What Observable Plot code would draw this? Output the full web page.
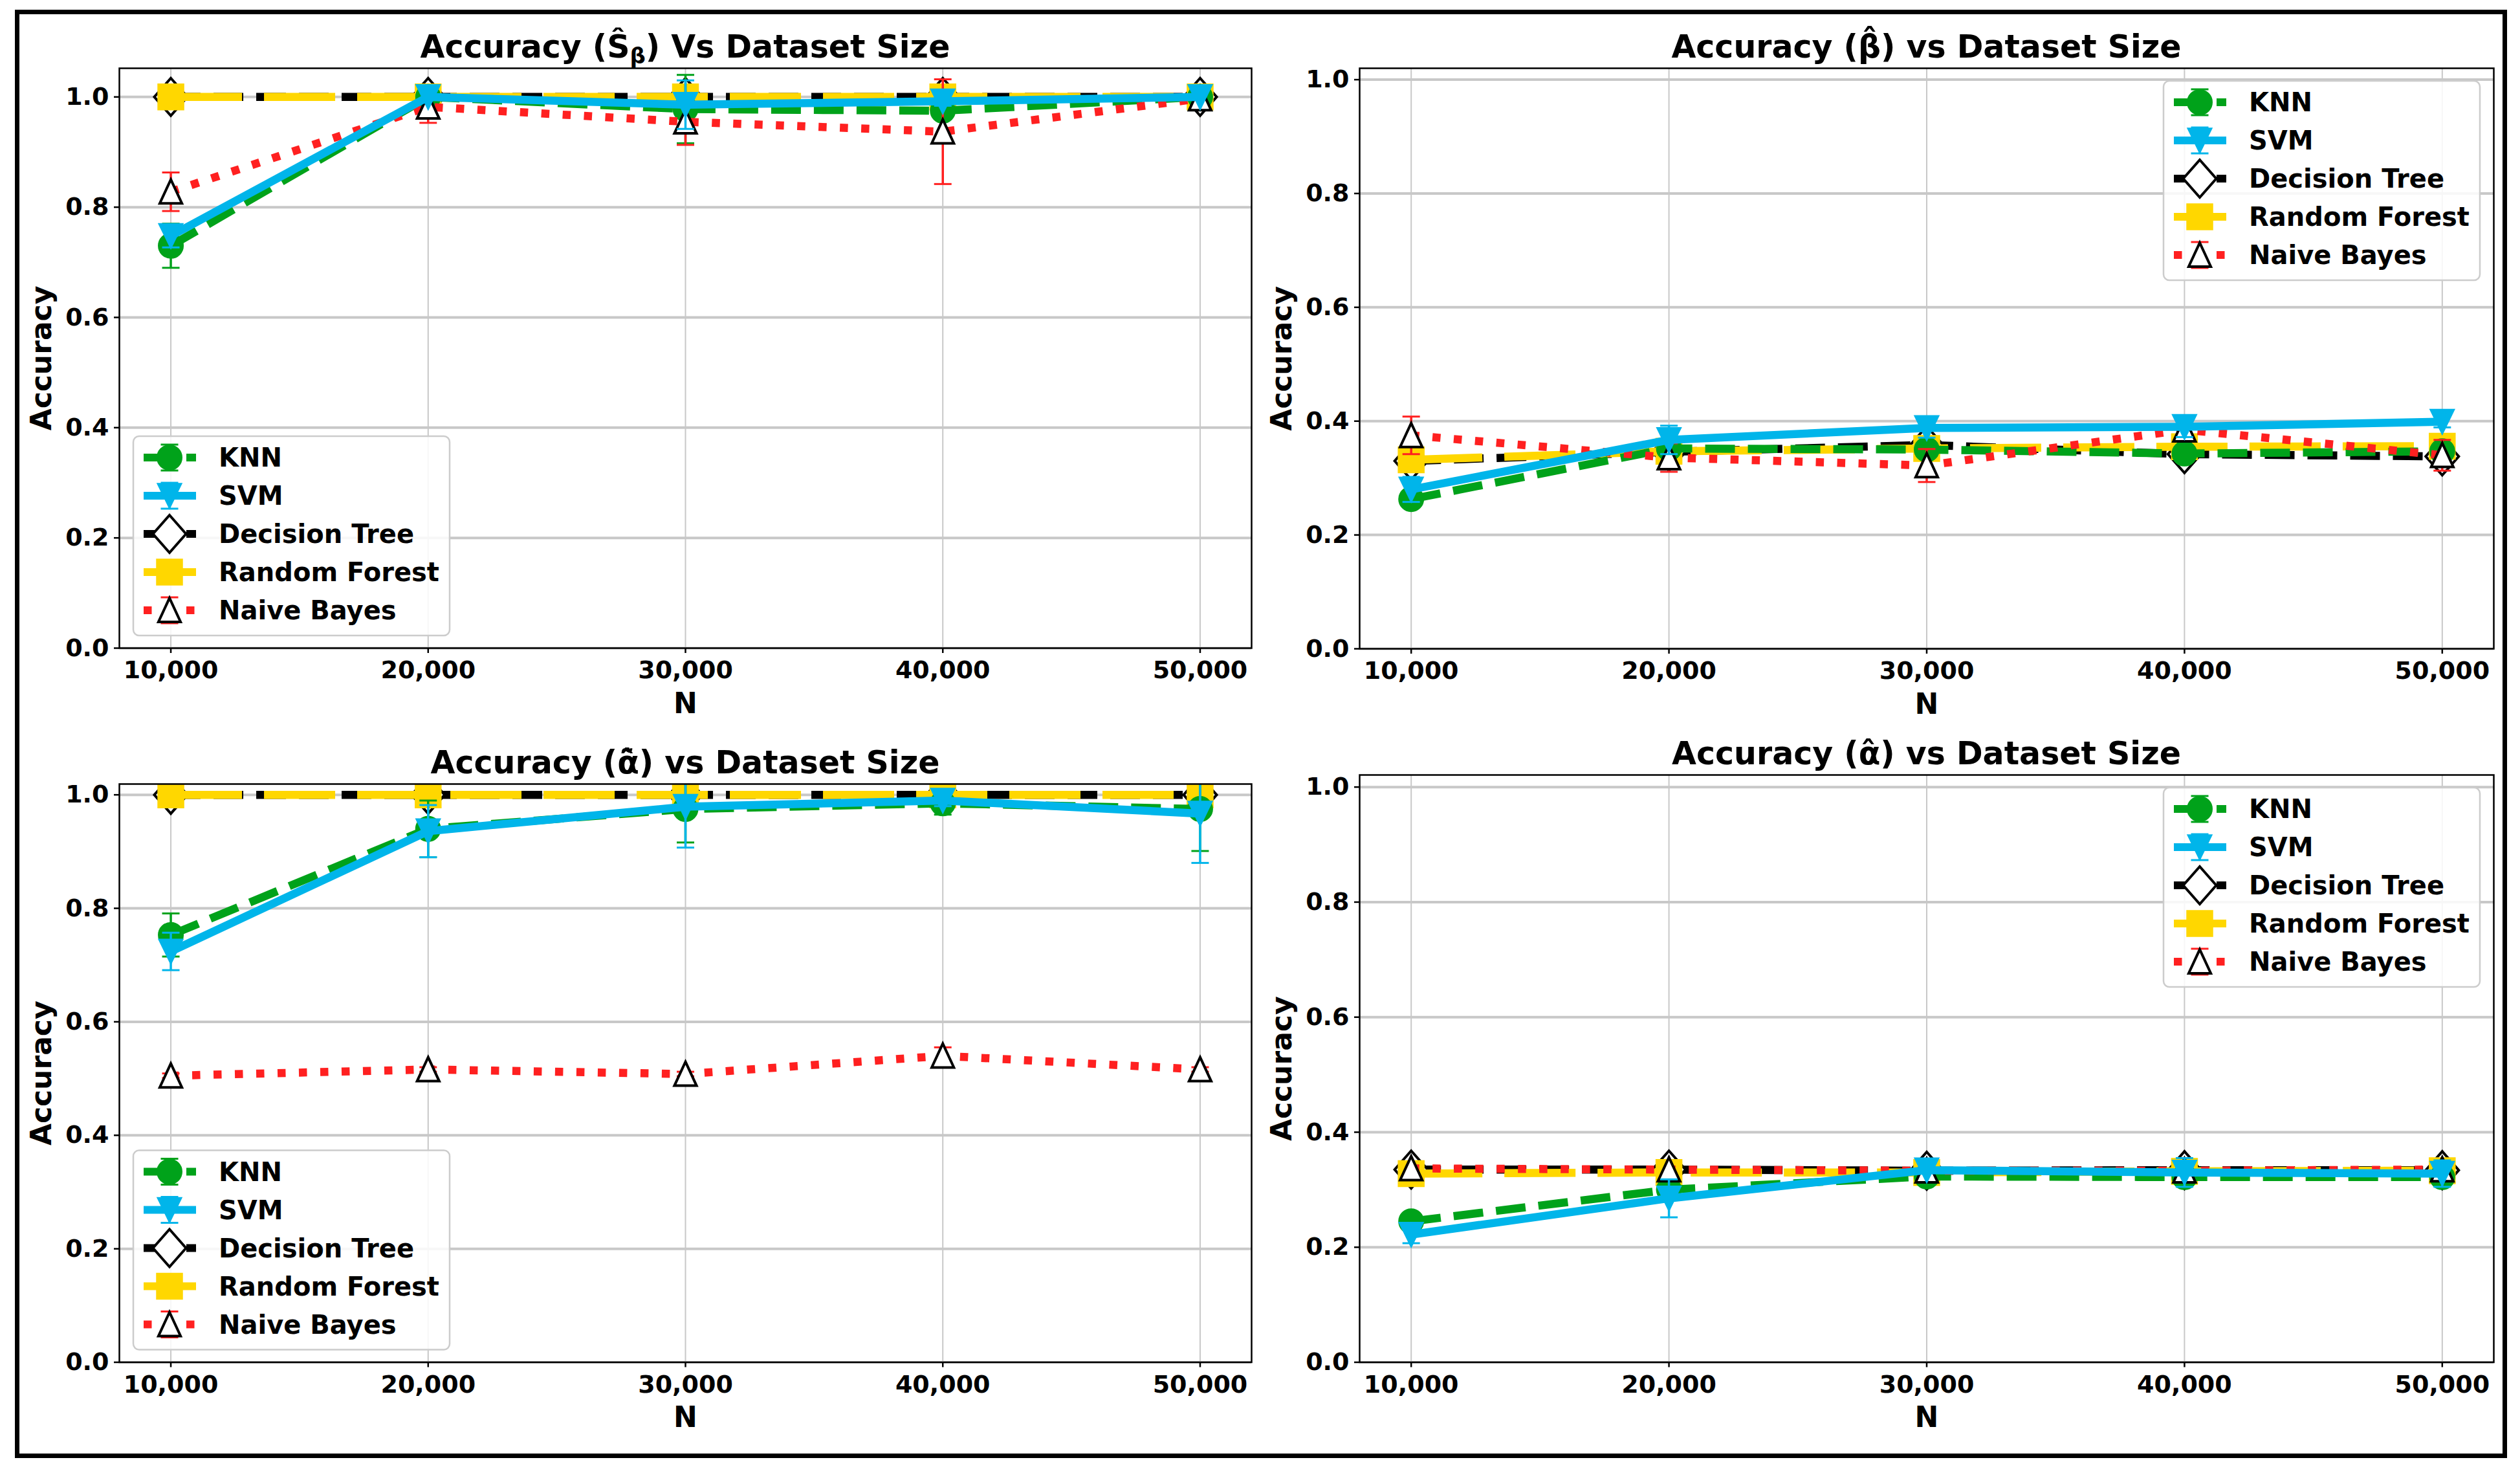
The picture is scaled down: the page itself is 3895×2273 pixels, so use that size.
<!DOCTYPE html>
<html>
<head>
<meta charset="utf-8">
<script src="https://cdn.jsdelivr.net/npm/d3@7"></script>
<script src="https://cdn.jsdelivr.net/npm/@observablehq/plot@0.6"></script>
<style>
html, body { margin: 0; padding: 0; background: #fff; }
#fig { position: relative; width: 3895px; height: 2273px; background: #fff; overflow: hidden; }
#border { position: absolute; left: 23px; top: 15px; width: 3852px; height: 2238px; border: 7.5px solid #000; box-sizing: border-box; }
#fig svg { position: absolute; }
#fig svg text { font-family: "DejaVu Sans", sans-serif; font-weight: bold; }
</style>
</head>
<body>
<div id="fig"><div id="border"></div></div>
<script>
// ---------------- data ----------------
const sizes = [10000, 20000, 30000, 40000, 50000];
const models = ["KNN", "SVM", "Decision Tree", "Random Forest", "Naive Bayes"];
const yTickValues = [0, 0.2, 0.4, 0.6, 0.8, 1.0];

// Panel 1: Accuracy (S-hat beta) — rows: KNN, SVM, DT, RF, NB
const sBetaAcc = [
  [0.730, 1.000, 0.978, 0.975, 1.000],
  [0.748, 1.000, 0.986, 0.992, 1.000],
  [1.000, 1.000, 1.000, 1.000, 1.000],
  [1.000, 1.000, 1.000, 1.000, 1.000],
  [0.828, 0.982, 0.955, 0.937, 0.997]
];
const sBetaErr = [
  [0.040, 0.000, 0.062, 0.012, 0.000],
  [0.021, 0.000, 0.044, 0.008, 0.000],
  [0, 0, 0, 0, 0],
  [0, 0, 0, 0, 0],
  [0.035, 0.029, 0.042, 0.095, 0.000]
];

// Panel 2: Accuracy (beta-hat)
const betaAcc = [
  [0.263, 0.352, 0.350, 0.343, 0.347],
  [0.280, 0.367, 0.388, 0.390, 0.399],
  [0.330, 0.346, 0.358, 0.342, 0.338],
  [0.332, 0.347, 0.352, 0.355, 0.356],
  [0.375, 0.336, 0.322, 0.385, 0.340]
];
const betaErr = [
  [0.005, 0, 0, 0, 0],
  [0.022, 0.025, 0.017, 0.018, 0.010],
  [0, 0, 0, 0, 0],
  [0, 0, 0, 0, 0],
  [0.033, 0.025, 0.029, 0.010, 0.027]
];

// Panel 3: Accuracy (alpha-tilde-hat)
const alphaTildeAcc = [
  [0.753, 0.940, 0.975, 0.985, 0.975],
  [0.724, 0.936, 0.979, 0.990, 0.967],
  [1.000, 1.000, 1.000, 1.000, 1.000],
  [1.000, 1.000, 1.000, 1.000, 1.000],
  [0.505, 0.516, 0.508, 0.540, 0.516]
];
const alphaTildeErr = [
  [0.038, 0.050, 0.059, 0.020, 0.074],
  [0.033, 0.046, 0.072, 0.010, 0.087],
  [0, 0, 0, 0, 0],
  [0, 0, 0, 0, 0],
  [0.004, 0.004, 0.004, 0.015, 0.004]
];

// Panel 4: Accuracy (alpha-hat)
const alphaAcc = [
  [0.245, 0.300, 0.323, 0.322, 0.322],
  [0.222, 0.285, 0.334, 0.330, 0.328],
  [0.335, 0.335, 0.333, 0.334, 0.334],
  [0.328, 0.330, 0.330, 0.332, 0.333],
  [0.337, 0.335, 0.333, 0.333, 0.335]
];
const alphaErr = [
  [0.008, 0.008, 0, 0.010, 0.010],
  [0.015, 0.033, 0.005, 0.025, 0.023],
  [0, 0, 0, 0, 0],
  [0, 0, 0, 0, 0],
  [0, 0, 0, 0, 0]
];

// ---------------- symbols & styles ----------------
const rad = s => Math.sqrt(s / Math.PI);
const triDown = {draw(c, s) { const r = rad(s); c.moveTo(-r, -r); c.lineTo(r, -r); c.lineTo(0, r * 1.05); c.closePath(); }};
const triUp = {draw(c, s) { const r = rad(s); c.moveTo(0, -r * 1.05); c.lineTo(r * 0.95, r); c.lineTo(-r * 0.95, r); c.closePath(); }};
const diamond = {draw(c, s) { const r = rad(s); c.moveTo(0, -r); c.lineTo(0.88 * r, 0); c.lineTo(0, r); c.lineTo(-0.88 * r, 0); c.closePath(); }};
const square = {draw(c, s) { const r = rad(s); c.rect(-r, -r, 2 * r, 2 * r); }};
const hline = {draw(c, s) { const r = rad(s); c.moveTo(-r, 0); c.lineTo(r, 0); }};

const styles = [
  {color: "#00a21a", dash: "46,20", symbol: "circle", r: 19, fill: "#00a21a", stroke: "#00a21a", sw: 2, legendErr: true},
  {color: "#00b5ea", dash: null, symbol: triDown, r: 19, fill: "#00b5ea", stroke: "#00b5ea", sw: 1.5, legendErr: true},
  {color: "#000000", dash: "46,20", symbol: diamond, r: 29, fill: "#ffffff", stroke: "#000000", sw: 4, legendErr: false},
  {color: "#ffd700", dash: "110,34", symbol: square, r: 20, fill: "#ffd700", stroke: "#ffd700", sw: 1.5, legendErr: false},
  {color: "#ff2020", dash: "12.5,20.5", symbol: triUp, r: 18, fill: "#ffffff", stroke: "#000000", sw: 4, legendErr: true}
];
const drawOrder = [2, 3, 0, 4, 1];

// ---------------- layout ----------------
const panels = [
  {acc: sBetaAcc, err: sBetaErr, yTop: 1.052, left: 0, top: 0, width: 1950, height: 1110, mL: 184, mR: 16, mT: 105, mB: 109, legend: "bl",
   title: [["Accuracy (Ŝ", 0], ["β", 1], [") Vs Dataset Size", 0]]},
  {acc: betaAcc, err: betaErr, yTop: 1.020, left: 1950, top: 0, width: 1925, height: 1110, mL: 151, mR: 21, mT: 105, mB: 108, legend: "tr",
   title: [["Accuracy (β\u0302) vs Dataset Size", 0]]},
  {acc: alphaTildeAcc, err: alphaTildeErr, yTop: 1.019, left: 0, top: 1110, width: 1950, height: 1163, mL: 184, mR: 16, mT: 101, mB: 168.5, legend: "bl",
   title: [["Accuracy (α\u0303\u0302) vs Dataset Size", 0]]},
  {acc: alphaAcc, err: alphaErr, yTop: 1.021, left: 1950, top: 1110, width: 1925, height: 1163, mL: 151, mR: 21, mT: 87, mB: 168.5, legend: "tr",
   title: [["Accuracy (α\u0302) vs Dataset Size", 0]]}
];

const fig = document.getElementById("fig");

function addLegend(svg, x0, y0) {
  const g = d3.select(svg).append("g").attr("transform", `translate(${x0},${y0})`);
  g.append("rect").attr("width", 489).attr("height", 308).attr("rx", 9)
    .attr("fill", "white").attr("fill-opacity", 0.85).attr("stroke", "#cccccc").attr("stroke-width", 2.5);
  models.forEach((m, i) => {
    const st = styles[i];
    const cy = 33 + 59 * i;
    g.append("line").attr("x1", 16).attr("x2", 97).attr("y1", cy).attr("y2", cy)
      .attr("stroke", st.color).attr("stroke-width", 12)
      .attr("stroke-dasharray", st.dash)
      .attr("stroke-linecap", "butt");
    if (st.legendErr) {
      g.append("line").attr("x1", 56).attr("x2", 56).attr("y1", cy - 20).attr("y2", cy + 20)
        .attr("stroke", st.color).attr("stroke-width", 3.5);
      [cy - 20, cy + 20].forEach(yy => g.append("line").attr("x1", 42.5).attr("x2", 69.5).attr("y1", yy).attr("y2", yy)
        .attr("stroke", st.color).attr("stroke-width", 3));
    }
    const sym = st.symbol === "circle" ? d3.symbolCircle : st.symbol;
    g.append("path").attr("transform", `translate(56,${cy})`)
      .attr("d", d3.symbol(sym, st.r * st.r * Math.PI)())
      .attr("fill", st.fill).attr("stroke", st.stroke).attr("stroke-width", st.sw)
      .attr("stroke-linejoin", "miter");
    g.append("text").attr("x", 132).attr("y", cy).attr("dy", "0.35em")
      .attr("text-anchor", "start")
      .attr("font-size", 40).attr("fill", "black").text(m);
  });
}

function addTitle(svg, cx, y, parts) {
  const t = d3.select(svg).append("text").attr("x", cx).attr("y", y)
    .attr("text-anchor", "middle").attr("font-size", 49).attr("fill", "black");
  let shifted = false;
  for (const [s, sub] of parts) {
    const ts = t.append("tspan").text(s);
    if (sub && !shifted) { ts.attr("dy", 9).attr("font-size", 34); shifted = true; }
    else if (!sub && shifted) { ts.attr("dy", -9); shifted = false; }
  }
}

for (const p of panels) {
  const marks = [
    Plot.gridX({ticks: sizes, stroke: "#c8c8c8", strokeOpacity: 1, strokeWidth: 2}),
    Plot.gridY({ticks: yTickValues, stroke: "#c8c8c8", strokeOpacity: 1, strokeWidth: 4})
  ];
  for (const i of drawOrder) {
    const st = styles[i];
    const rows = sizes.map((n, j) => ({n, v: p.acc[i][j], e: p.err[i][j], lo: p.acc[i][j] - p.err[i][j], hi: p.acc[i][j] + p.err[i][j]}));
    const eb = rows.filter(d => d.e > 0);
    marks.push(Plot.ruleX(eb, {x: "n", y1: "lo", y2: "hi", stroke: st.color, strokeWidth: 3.5, clip: true}));
    marks.push(Plot.dot(eb, {x: "n", y: "lo", symbol: hline, r: 13.5, stroke: st.color, fill: "none", strokeWidth: 3, clip: true}));
    marks.push(Plot.dot(eb, {x: "n", y: "hi", symbol: hline, r: 13.5, stroke: st.color, fill: "none", strokeWidth: 3, clip: true}));
    marks.push(Plot.line(rows, {x: "n", y: "v", stroke: st.color, strokeWidth: 12.5,
      strokeDasharray: st.dash || undefined, strokeLinecap: st.dash ? "butt" : "square", strokeLinejoin: "round", clip: true}));
    marks.push(Plot.dot(rows, {x: "n", y: "v", symbol: st.symbol, r: st.r, fill: st.fill, stroke: st.stroke, strokeWidth: st.sw, clip: true}));
  }
  marks.push(Plot.frame({stroke: "black", strokeWidth: 2.5}));
  marks.push(Plot.axisX({ticks: sizes, tickFormat: d3.format(","), tickSize: 8, tickPadding: 12, fontSize: 38, strokeWidth: 2.5, label: null}));
  marks.push(Plot.axisX([], {label: "N", labelAnchor: "center", labelOffset: 100, labelArrow: "none", fontSize: 44, tickSize: 0}));
  marks.push(Plot.axisY({ticks: yTickValues, tickFormat: d3.format(".1f"), tickSize: 8, tickPadding: 8, fontSize: 38, strokeWidth: 2.5, label: null}));
  marks.push(Plot.axisY([], {label: "Accuracy", labelAnchor: "center", labelOffset: 137, labelArrow: "none", fontSize: 44, tickSize: 0}));

  const svg = Plot.plot({
    width: p.width, height: p.height,
    marginLeft: p.mL, marginRight: p.mR, marginTop: p.mT, marginBottom: p.mB,
    x: {type: "linear", domain: [8000, 52000]},
    y: {type: "linear", domain: [0, p.yTop]},
    style: {background: "transparent", overflow: "visible", fontFamily: "DejaVu Sans", fontWeight: "bold", color: "black"},
    marks
  });
  svg.style.left = p.left + "px";
  svg.style.top = p.top + "px";
  svg.style.maxWidth = "none";
  const plotRight = p.width - p.mR, plotBottom = p.height - p.mB;
  addTitle(svg, (p.mL + plotRight) / 2, p.mT - 16, p.title);
  if (p.legend === "bl") addLegend(svg, p.mL + 22, plotBottom - 19 - 308);
  else addLegend(svg, plotRight - 21 - 489, p.mT + 20);
  fig.appendChild(svg);
}
</script>
</body>
</html>
